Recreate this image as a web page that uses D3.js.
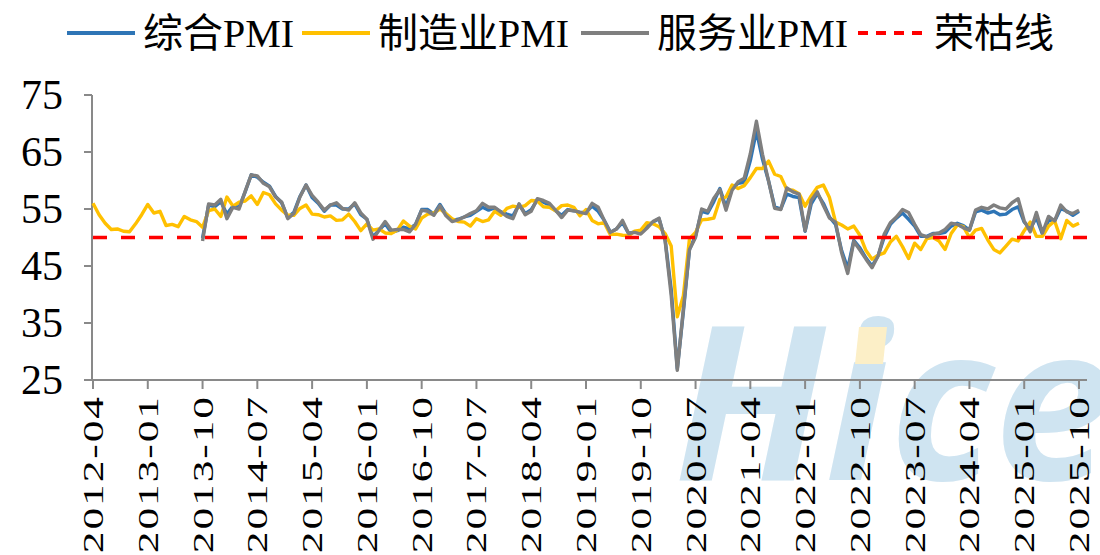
<!DOCTYPE html>
<html>
<head>
<meta charset="utf-8">
<script src="https://cdn.jsdelivr.net/npm/d3@7"></script>
<style>
    body { margin: 0; background: #fff; }
    svg { display: block; }
</style>
</head>
<body>
<div id="chart"></div>
<script>
// monthly PMI, 2012-04 .. 2025-10
const firstMonth = new Date(2012, 3, 1);
const servicesFirstMonth = new Date(2013, 9, 1);

const tickLabels = ["2012-04", "2013-01", "2013-10", "2014-07", "2015-04", "2016-01", "2016-10",
    "2017-07", "2018-04", "2019-01", "2019-10", "2020-07", "2021-04", "2022-01", "2022-10",
    "2023-07", "2024-04", "2025-01", "2025-10"];
const yTicks = [25, 35, 45, 55, 65, 75];
const threshold = 50;

const manufacturing = [
    56.0, 54.0, 52.5, 51.4, 51.5, 51.1, 51.0, 52.4, 54.0,
    55.8, 54.3, 54.6, 52.1, 52.3, 51.9, 53.7, 53.1, 52.8, 51.8, 54.7, 55.0,
    53.7, 57.1, 55.5, 56.2, 56.4, 57.3, 55.8, 57.9, 57.5, 55.9, 54.8, 53.9,
    53.9, 55.1, 55.7, 54.1, 54.0, 53.6, 53.8, 53.0, 53.1, 54.1, 52.8, 51.2,
    52.4, 51.3, 51.5, 50.8, 50.7, 51.3, 52.9, 52.0, 51.5, 53.4, 54.1, 54.3,
    55.0, 54.2, 53.3, 52.8, 52.7, 52.0, 53.3, 52.8, 53.1, 54.6, 53.9, 55.1,
    55.5, 55.3, 55.6, 56.5, 56.4, 55.4, 55.3, 54.7, 55.6, 55.7, 55.3, 53.8,
    54.9, 53.0, 52.4, 52.6, 50.5, 50.6, 50.4, 50.3, 51.1, 51.3, 52.6, 52.4,
    51.9, 50.7, 48.5, 36.1, 39.8, 49.8, 50.9, 53.1, 53.2, 53.4, 56.7, 57.1,
    59.2, 58.6, 59.1, 60.5, 62.1, 62.1, 63.4, 61.1, 60.7, 58.4, 58.3, 57.7,
    55.5, 57.3, 58.8, 59.2, 57.0, 52.7, 52.2, 51.5, 52.0, 50.4, 47.7, 46.2,
    46.9, 47.3, 49.2, 50.2, 48.4, 46.3, 49.0, 47.9, 49.8, 50.0, 49.4, 47.9,
    50.7, 52.2, 51.9, 50.0, 51.3, 51.6, 49.6, 47.9, 47.3, 48.5, 49.7, 49.4,
    51.2, 52.7, 50.2, 50.2, 52.0, 52.9, 49.8, 53.0, 52.0, 52.5
];

// services and composite start 2013-10
const services = [
    49.4, 55.9, 55.7,
    56.7, 53.3, 55.3, 55.0, 58.1, 61.0, 60.8, 59.5, 58.9, 57.1, 56.2, 53.3,
    54.2, 57.1, 59.2, 57.4, 56.2, 54.8, 55.7, 56.1, 55.1, 54.8, 56.1, 54.3,
    53.2, 49.7, 51.3, 52.8, 51.3, 51.4, 51.4, 51.0, 52.3, 54.8, 54.6, 53.9,
    55.6, 53.8, 52.8, 53.1, 53.6, 54.2, 54.7, 56.0, 55.3, 55.3, 54.5, 53.7,
    53.3, 55.9, 54.0, 54.6, 56.8, 56.5, 56.0, 54.8, 53.5, 54.8, 54.7, 54.4,
    54.2, 56.0, 55.3, 53.0, 50.9, 51.5, 53.0, 50.7, 50.9, 50.6, 51.6, 52.8,
    53.4, 49.4, 39.8, 26.7, 37.5, 47.9, 50.0, 55.0, 54.6, 56.9, 58.4, 54.8,
    58.3, 59.8, 60.4, 64.7, 70.4, 64.6, 59.9, 55.1, 54.9, 58.7, 58.0, 57.6,
    51.2, 56.5, 58.0, 55.6, 53.4, 52.7, 47.3, 43.7, 49.3, 47.8, 46.2, 44.7,
    46.8, 50.6, 52.6, 53.6, 54.9, 54.4, 52.3, 50.5, 50.1, 50.6, 50.8, 51.4,
    52.5, 52.3, 51.7, 51.3, 54.8, 55.3, 55.0, 55.7, 55.2, 55.0, 56.1, 56.8,
    52.9, 51.0, 54.4, 50.8, 53.7, 52.9, 55.7, 54.5, 54.2, 54.8
];

const composite = [
    49.9, 55.7, 55.4,
    56.3, 54.1, 55.5, 55.3, 58.0, 61.0, 60.6, 59.7, 59.0, 57.2, 56.1, 53.5,
    54.4, 57.2, 59.2, 57.0, 56.0, 54.6, 55.7, 55.7, 55.0, 55.0, 55.9, 54.0,
    53.2, 50.1, 51.3, 52.4, 50.9, 51.2, 51.8, 51.5, 52.3, 54.9, 54.9, 54.1,
    55.8, 54.1, 53.0, 53.2, 53.6, 53.9, 54.6, 55.3, 54.8, 55.2, 54.5, 54.1,
    53.8, 55.8, 54.2, 54.9, 56.6, 56.2, 55.7, 54.7, 53.9, 54.9, 54.7, 54.4,
    54.4, 55.5, 54.6, 53.0, 50.9, 51.5, 52.6, 50.7, 51.0, 50.9, 52.0, 52.7,
    53.3, 49.6, 40.9, 27.0, 37.0, 47.9, 50.3, 54.6, 54.3, 56.3, 58.6, 55.3,
    58.7, 59.5, 59.7, 63.5, 68.7, 63.7, 59.9, 55.4, 55.0, 57.6, 57.2, 57.0,
    51.1, 55.9, 57.7, 56.0, 53.6, 52.3, 47.7, 44.6, 49.5, 48.2, 46.4, 45.0,
    46.8, 50.1, 52.3, 53.4, 54.3, 53.2, 52.0, 50.2, 50.2, 50.7, 50.7, 50.9,
    52.0, 52.5, 52.1, 51.3, 54.5, 54.8, 54.3, 54.6, 54.0, 54.1, 54.9, 55.4,
    52.7, 51.6, 53.5, 50.6, 53.0, 52.9, 55.1, 54.6, 53.9, 54.6
];

const seriesNames = ["综合PMI", "制造业PMI", "服务业PMI", "荣枯线"];
const seriesColors = ["#2E75B6", "#FFC000", "#7F7F7F", "#FF0000"];

const width = 1100, height = 555;
const fmt = d3.timeFormat("%Y-%m");
const nMonths = manufacturing.length;
const months = d3.range(nMonths).map(i => d3.timeMonth.offset(firstMonth, i));
const svcOffset = d3.timeMonth.count(firstMonth, servicesFirstMonth);

const svg = d3.select("#chart").append("svg")
    .attr("width", width)
    .attr("height", height)
    .style("font-family", "'Liberation Serif', 'Noto Sans CJK SC', serif");

svg.append("rect").attr("width", width).attr("height", height).attr("fill", "#fff");

// watermark (clipped by the frame like in the source)
svg.append("clipPath").attr("id", "frame")
    .append("rect").attr("width", width).attr("height", height);
const wm = svg.append("g").attr("class", "watermark").attr("clip-path", "url(#frame)");
wm.append("text")
    .attr("x", 674)
    .attr("y", 480)
    .attr("fill", "#cfe4f1")
    .style("font-family", "'Open Sans', sans-serif")
    .style("font-weight", 700)
    .style("font-style", "italic")
    .style("font-size", "216px")
    .text("Hice");
wm.append("polygon")
    .attr("points", "859,327 887,327 883,364 855,364")
    .attr("fill", "#fcefc7");

const x = d3.scaleLinear().domain([0, nMonths - 1]).range([93, 1079]);
const y = d3.scaleLinear().domain([25, 75]).range([380, 95]);

// axes
const axisColor = "#898989";
svg.append("line")
    .attr("x1", 92).attr("x2", 92)
    .attr("y1", y(75)).attr("y2", y(25))
    .attr("stroke", axisColor).attr("stroke-width", 2);
svg.append("line")
    .attr("x1", 92).attr("x2", 1087)
    .attr("y1", y(25)).attr("y2", y(25))
    .attr("stroke", axisColor).attr("stroke-width", 2);

svg.selectAll(".ytick").data(yTicks).join("line")
    .attr("class", "ytick")
    .attr("x1", 84).attr("x2", 92)
    .attr("y1", d => y(d)).attr("y2", d => y(d))
    .attr("stroke", axisColor).attr("stroke-width", 2);

svg.selectAll(".ylabel").data(yTicks).join("text")
    .attr("class", "ylabel")
    .attr("x", 63)
    .attr("y", d => y(d))
    .attr("text-anchor", "end")
    .attr("dominant-baseline", "central")
    .style("font-size", "42px")
    .attr("fill", "#000")
    .text(d => d);

const tickIdx = tickLabels.map(t => months.findIndex(m => fmt(m) === t));

svg.selectAll(".xtick").data(tickIdx).join("line")
    .attr("class", "xtick")
    .attr("x1", d => x(d)).attr("x2", d => x(d))
    .attr("y1", y(25)).attr("y2", y(25) + 9)
    .attr("stroke", axisColor).attr("stroke-width", 2);

svg.selectAll(".xlabel").data(tickIdx).join("text")
    .attr("class", "xlabel")
    .attr("transform", d => "translate(" + x(d) + ",395) rotate(-90) scale(1.45,1)")
    .attr("text-anchor", "end")
    .attr("dominant-baseline", "central")
    .style("font-size", "30px")
    .style("letter-spacing", "1.3px")
    .attr("fill", "#000")
    .text((d, i) => tickLabels[i]);

// lines
const line = d3.line()
    .x(d => x(d.i))
    .y(d => y(d.v));

const toPoints = (arr, offset) => arr.map((v, k) => ({i: k + offset, v: v}));

const plotted = [
    {data: toPoints(composite, svcOffset), color: seriesColors[0]},
    {data: toPoints(manufacturing, 0), color: seriesColors[1]},
    {data: toPoints(services, svcOffset), color: seriesColors[2]}
];

svg.selectAll(".series").data(plotted).join("path")
    .attr("class", "series")
    .attr("d", d => line(d.data))
    .attr("fill", "none")
    .attr("stroke", d => d.color)
    .attr("stroke-width", 3.4)
    .attr("stroke-linejoin", "round");

svg.append("line")
    .attr("x1", x(0)).attr("x2", 1087)
    .attr("y1", y(threshold)).attr("y2", y(threshold))
    .attr("stroke", seriesColors[3])
    .attr("stroke-width", 3.5)
    .attr("stroke-dasharray", "14,14");

// legend
const legendX = [67, 302, 581, 858];
const legend = svg.selectAll(".legend").data(seriesNames).join("g")
    .attr("class", "legend")
    .attr("transform", (d, i) => "translate(" + legendX[i] + ",33)");

legend.append("line")
    .attr("x1", 0).attr("x2", 68)
    .attr("stroke", (d, i) => seriesColors[i])
    .attr("stroke-width", 4)
    .attr("stroke-dasharray", (d, i) => i === 3 ? "10,8" : null);

legend.append("text")
    .attr("x", 76)
    .attr("y", 0)
    .attr("dominant-baseline", "central")
    .style("font-size", "40px")
    .attr("fill", "#000")
    .text(d => d);
</script>
</body>
</html>
